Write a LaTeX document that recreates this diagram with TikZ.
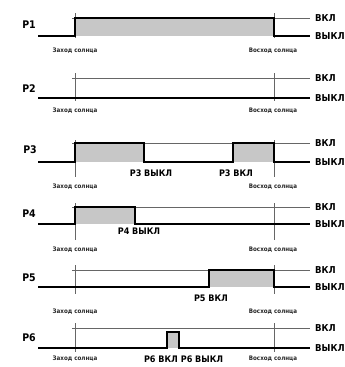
\documentclass[tikz,border=0pt]{standalone}
\usepackage{fontspec}
\newfontfamily\cf{DejaVu Sans Condensed}
\begin{document}
\begin{tikzpicture}[x=1pt,y=-1pt,
  refline/.style={draw=black!60,line width=0.6pt},
  sig/.style={draw=black,line width=1.1pt},
  onfill/.style={fill=black!22,draw=none},
  plabel/.style={font=\cf\bfseries\fontsize{10.5}{12}\selectfont,inner sep=0pt},
  statelbl/.style={font=\cf\bfseries\fontsize{9.5}{11}\selectfont,inner sep=0pt,anchor=west},
  sunlbl/.style={font=\cf\bfseries\fontsize{6.2}{7}\selectfont,text=black!85,inner sep=0pt},
  evlbl/.style={font=\cf\bfseries\fontsize{9}{11}\selectfont,inner sep=0pt}]
\useasboundingbox (0,0) rectangle (345,367);

% ---------- P1 ----------
\fill[onfill] (75,18) rectangle (274,36);
\draw[refline] (72,18) -- (310,18);
\draw[refline] (75,13) -- (75,38);
\draw[refline] (274,13) -- (274,38);
\draw[sig] (38,36) -- (75,36) -- (75,18) -- (274,18) -- (274,36) -- (310,36);
\node[plabel] (p1) at (29,25) {P1};
\node[statelbl] (p1on) at (315,18) {ВКЛ};
\node[statelbl] (p1off) at (315,36) {ВЫКЛ};
\node[sunlbl] (p1ss) at (75,51) {Заход солнца};
\node[sunlbl] (p1sr) at (273,51) {Восход солнца};

% ---------- P2 ----------
\draw[refline] (72,78) -- (310,78);
\draw[refline] (75,73) -- (75,101);
\draw[refline] (274,73) -- (274,101);
\draw[sig] (38,98) -- (310,98);
\node[plabel] (p2) at (29,89) {P2};
\node[statelbl] (p2on) at (315,78) {ВКЛ};
\node[statelbl] (p2off) at (315,98) {ВЫКЛ};
\node[sunlbl] (p2ss) at (75,111) {Заход солнца};
\node[sunlbl] (p2sr) at (273,111) {Восход солнца};

% ---------- P3 ----------
\fill[onfill] (75,143) rectangle (144,162);
\fill[onfill] (233,143) rectangle (274,162);
\draw[refline] (72,143) -- (310,143);
\draw[refline] (75,140) -- (75,177);
\draw[refline] (274,140) -- (274,177);
\draw[sig] (38,162) -- (75,162) -- (75,143) -- (144,143) -- (144,162) -- (233,162) -- (233,143) -- (274,143) -- (274,162) -- (310,162);
\node[plabel] (p3) at (30,150) {P3};
\node[statelbl] (p3on) at (315,143) {ВКЛ};
\node[statelbl] (p3off) at (315,162) {ВЫКЛ};
\node[evlbl] (p3e1) at (151,173) {P3 ВЫКЛ};
\node[evlbl] (p3e2) at (236,173) {P3 ВКЛ};
\node[sunlbl] (p3ss) at (75,187) {Заход солнца};
\node[sunlbl] (p3sr) at (273,187) {Восход солнца};

% ---------- P4 ----------
\fill[onfill] (75,207) rectangle (135,224);
\draw[refline] (72,207) -- (310,207);
\draw[refline] (75,203) -- (75,240);
\draw[refline] (274,203) -- (274,240);
\draw[sig] (38,224) -- (75,224) -- (75,207) -- (135,207) -- (135,224) -- (310,224);
\node[plabel] (p4) at (29,214) {P4};
\node[statelbl] (p4on) at (315,207) {ВКЛ};
\node[statelbl] (p4off) at (315,224) {ВЫКЛ};
\node[evlbl] (p4e1) at (139,231) {P4 ВЫКЛ};
\node[sunlbl] (p4ss) at (75,250) {Заход солнца};
\node[sunlbl] (p4sr) at (273,250) {Восход солнца};

% ---------- P5 ----------
\fill[onfill] (209,270) rectangle (274,287);
\draw[refline] (72,270) -- (310,270);
\draw[refline] (75,265) -- (75,294);
\draw[refline] (274,265) -- (274,294);
\draw[sig] (38,287) -- (209,287) -- (209,270) -- (274,270) -- (274,287) -- (310,287);
\node[plabel] (p5) at (29,278) {P5};
\node[statelbl] (p5on) at (315,270) {ВКЛ};
\node[statelbl] (p5off) at (315,287) {ВЫКЛ};
\node[evlbl] (p5e1) at (211,298) {P5 ВКЛ};
\node[sunlbl] (p5ss) at (75,312) {Заход солнца};
\node[sunlbl] (p5sr) at (273,312) {Восход солнца};

% ---------- P6 ----------
\fill[onfill] (167,332) rectangle (179,348);
\draw[refline] (72,328) -- (310,328);
\draw[refline] (75,323) -- (75,352);
\draw[refline] (274,323) -- (274,352);
\draw[sig] (38,348) -- (167,348) -- (167,332) -- (179,332) -- (179,348) -- (310,348);
\node[plabel] (p6) at (29,338) {P6};
\node[statelbl] (p6on) at (315,328) {ВКЛ};
\node[statelbl] (p6off) at (315,348) {ВЫКЛ};
\node[evlbl] (p6e1) at (161,359) {P6 ВКЛ};
\node[evlbl] (p6e2) at (202,359) {P6 ВЫКЛ};
\node[sunlbl] (p6ss) at (75,359) {Заход солнца};
\node[sunlbl] (p6sr) at (273,359) {Восход солнца};
\end{tikzpicture}
\end{document}
